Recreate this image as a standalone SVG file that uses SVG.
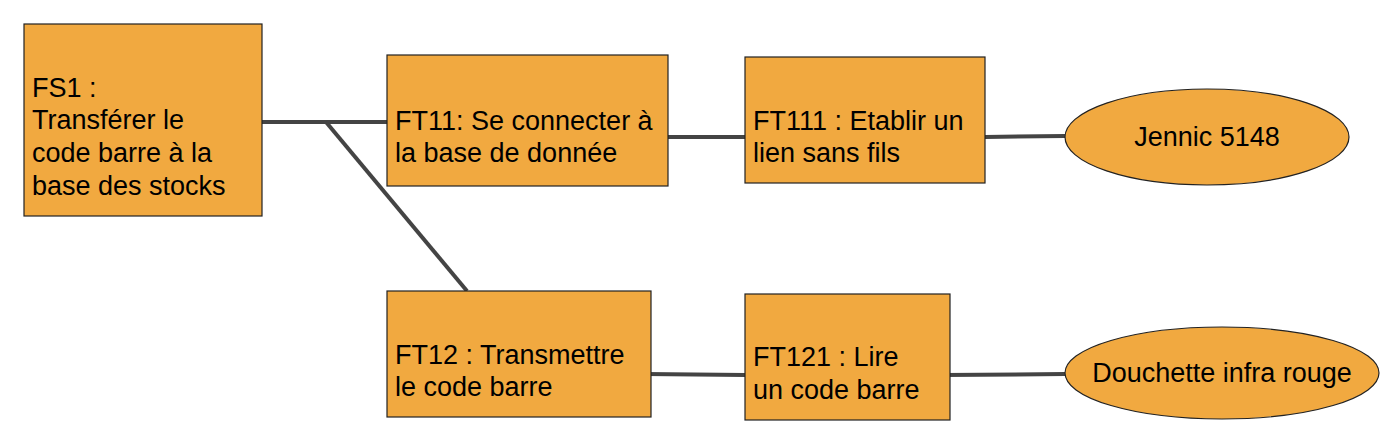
<svg xmlns="http://www.w3.org/2000/svg" width="1400" height="446" viewBox="0 0 1400 446">
<style>
.box{fill:#f1a940;stroke:#222;stroke-width:1.2}
.t{font-family:"Liberation Sans",Arial,sans-serif;font-size:27px;fill:#000}
.c{stroke:#444;stroke-width:4;fill:none}
</style>
<rect width="1400" height="446" fill="#fff"/>
<g id="connectors">
<line class="c" x1="262" y1="122" x2="387" y2="122"/>
<line class="c" x1="326" y1="122" x2="467" y2="291"/>
<line class="c" x1="668" y1="137" x2="745" y2="137"/>
<line class="c" x1="985" y1="137" x2="1065" y2="136"/>
<line class="c" x1="645" y1="374" x2="745" y2="375"/>
<line class="c" x1="944" y1="375" x2="1065" y2="374"/>
</g>
<g id="FS1">
<rect class="box" x="24" y="24" width="238" height="192"/>
<text class="t" x="32" y="97">FS1 :</text>
<text class="t" x="32" y="129">Transférer le</text>
<text class="t" x="32" y="162">code barre à la</text>
<text class="t" x="32" y="195">base des stocks</text>
</g>
<g id="FT11">
<rect class="box" x="387" y="55" width="281" height="131"/>
<text class="t" x="395" y="130">FT11: Se connecter à</text>
<text class="t" x="395" y="162">la base de donnée</text>
</g>
<g id="FT111">
<rect class="box" x="745" y="57" width="240" height="126"/>
<text class="t" x="753" y="130">FT111 : Etablir un</text>
<text class="t" x="753" y="162">lien sans fils</text>
</g>
<g id="Jennic">
<ellipse class="box" cx="1207" cy="137" rx="142" ry="48"/>
<text class="t" x="1207" y="146" text-anchor="middle">Jennic 5148</text>
</g>
<g id="FT12">
<rect class="box" x="387" y="291" width="264" height="126"/>
<text class="t" x="395" y="364">FT12 : Transmettre</text>
<text class="t" x="395" y="396">le code barre</text>
</g>
<g id="FT121">
<rect class="box" x="745" y="294" width="205" height="126"/>
<text class="t" x="753" y="366">FT121 : Lire</text>
<text class="t" x="753" y="399">un code barre</text>
</g>
<g id="Douchette">
<ellipse class="box" cx="1222" cy="373" rx="157" ry="46"/>
<text class="t" x="1222" y="382" text-anchor="middle">Douchette infra rouge</text>
</g>
</svg>
